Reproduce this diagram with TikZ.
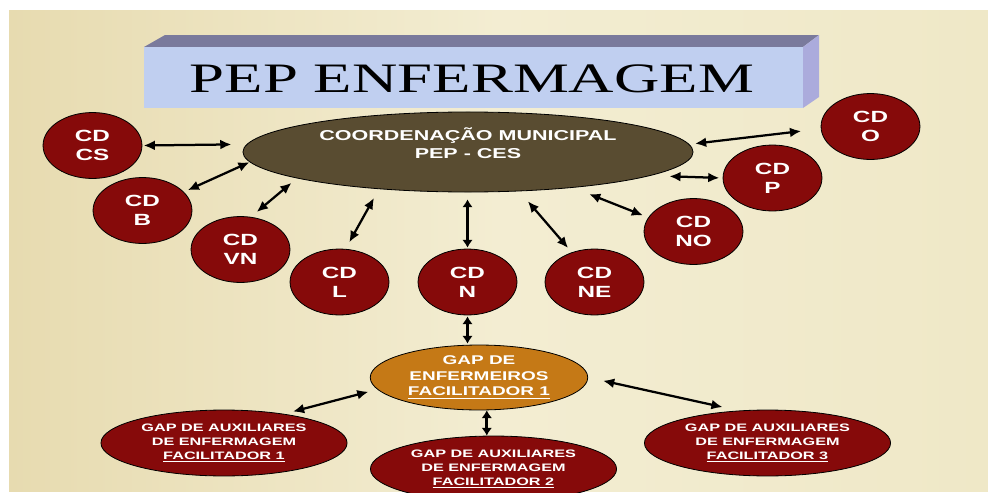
\documentclass[tikz,border=0pt]{standalone}
\usepackage{fontspec}
\setmainfont{Liberation Serif}
\setsansfont{Liberation Sans}
\usetikzlibrary{arrows.meta,shapes.geometric}
\definecolor{paper}{RGB}{239,232,199}
\definecolor{paperdark}{RGB}{231,219,176}
\definecolor{paperlight}{RGB}{243,237,210}
\definecolor{cdred}{RGB}{134,10,10}
\definecolor{hubbrown}{RGB}{89,76,49}
\definecolor{enforange}{RGB}{197,121,22}
\definecolor{boxfront}{RGB}{192,207,240}
\definecolor{boxtop}{RGB}{122,122,156}
\definecolor{boxside}{RGB}{171,171,220}

\begin{document}
%% one unit = 0.025cm (0.711pt)
\begin{tikzpicture}[x=0.025cm, y=-0.025cm,
	every node/.style={xscale=1.5},
	cd/.style={circle, draw, line width=0.57pt, fill=cdred, minimum size=46.9pt,
		inner sep=0pt, text=white, align=center,
		font=\sffamily\bfseries\fontsize{11.5}{13.5}\selectfont},
	hub/.style={ellipse, draw, line width=0.57pt, fill=hubbrown,
		minimum width=213.4pt, minimum height=56.9pt, inner sep=0pt},
	hubtext/.style={text=white, align=center, inner sep=0pt,
		font=\sffamily\bfseries\fontsize{10.2}{12.8}\selectfont},
	gapenf/.style={ellipse, draw, line width=0.57pt, fill=enforange,
		minimum width=103.1pt, minimum height=46.2pt, inner sep=0pt,
		text=white, align=center, font=\sffamily\bfseries\fontsize{9}{11}\selectfont},
	gapaux/.style={ellipse, draw, line width=0.57pt, fill=cdred,
		minimum width=116.7pt, minimum height=46.9pt, inner sep=0pt,
		text=white, align=center, font=\sffamily\bfseries\fontsize{7.7}{10}\selectfont},
	link/.style={<->, >={Latex[length=8pt, width=7pt]}, line width=1.6pt},
	thicklink/.style={<->, >={Latex[length=5.5pt, width=7.5pt]}, line width=2.3pt}]

	\useasboundingbox (0,0) rectangle (988,493);
	\shade[left color=paperdark, right color=paper, middle color=paperlight]
		(9,10) rectangle (988,491);

	%% title block
	\fill[boxtop] (144,47) -- (165,35) -- (819,35) -- (803,47) -- cycle;
	\fill[boxside] (803,47) -- (819,35) -- (819,97) -- (803,108) -- cycle;
	\fill[boxfront] (144,47) rectangle (803,108);
	\node[font=\fontsize{29.8}{30}\selectfont] (title) at (472,78.5) {PEP ENFERMAGEM};

	%% coordination
	\node[hub] (hub) at (468,152) {};
	\node[hubtext] (hublabel) at (468,143) {COORDENAÇÃO MUNICIPAL\\PEP - CES};

	%% districts
	\node[cd] (cs) at (92.5,145.5) {CD\\CS};
	\node[cd] (b) at (142.5,210.5) {CD\\B};
	\node[cd] (vn) at (240.5,249.5) {CD\\VN};
	\node[cd] (l) at (339.5,282) {CD\\L};
	\node[cd] (n) at (467.5,282) {CD\\N};
	\node[cd] (ne) at (594.5,282) {CD\\NE};
	\node[cd] (no) at (693.5,231.5) {CD\\NO};
	\node[cd] (p) at (772.5,178) {CD\\P};
	\node[cd] (o) at (870.5,126.5) {CD\\O};

	%% groups
	\node[gapenf] (enf) at (479,377.5) {GAP DE\\ENFERMEIROS\\\underline{FACILITADOR 1}};
	\node[gapaux] (aux1) at (224,443) {GAP DE AUXILIARES\\DE ENFERMAGEM\\\underline{FACILITADOR 1}};
	\node[gapaux] (aux2) at (493.5,469) {GAP DE AUXILIARES\\DE ENFERMAGEM\\\underline{FACILITADOR 2}};
	\node[gapaux] (aux3) at (767.5,443) {GAP DE AUXILIARES\\DE ENFERMAGEM\\\underline{FACILITADOR 3}};

	%% links to the coordination
	\draw[link, shorten <=0.71pt, shorten >=10.67pt] (cs.east) -- (hub.177);
	\draw[link, shorten <=2.85pt] (b.34) -- (hub.184);
	\draw[link, shorten <=5.33pt, shorten >=4.98pt] (vn.78) -- (hub.193);
	\draw[link, shorten <=5.33pt, shorten >=7.11pt] (l.83) -- (hub.212);
	\draw[thicklink, shorten <=0.71pt, shorten >=4.98pt] (n.north) -- (n.north |- hub.south);
	\draw[link, shorten <=3.91pt, shorten >=9.25pt] (ne.117) -- (hub.311);
	\draw[link, shorten <=3.91pt, shorten >=12.09pt] (no.155) -- (hub.333);
	\draw[link, shorten <=2.13pt, shorten >=13.16pt] (p.west) -- (hub.349);
	\draw[link, shorten <=13.87pt, shorten >=3.91pt] (o.184) -- (hub.3);

	%% links between the groups
	\draw[thicklink, shorten <=0.71pt, shorten >=0.71pt] (n.south) -- (n.south |- enf.north);
	\draw[thicklink] (enf.279) -- (enf.279 |- aux2.north);
	\draw[link, shorten <=6.4pt, shorten >=6.4pt] (aux1.36) -- (enf.190);
	\draw[link, shorten <=10.67pt, shorten >=11.38pt] (enf.east) -- (aux3.121);
\end{tikzpicture}
\end{document}
